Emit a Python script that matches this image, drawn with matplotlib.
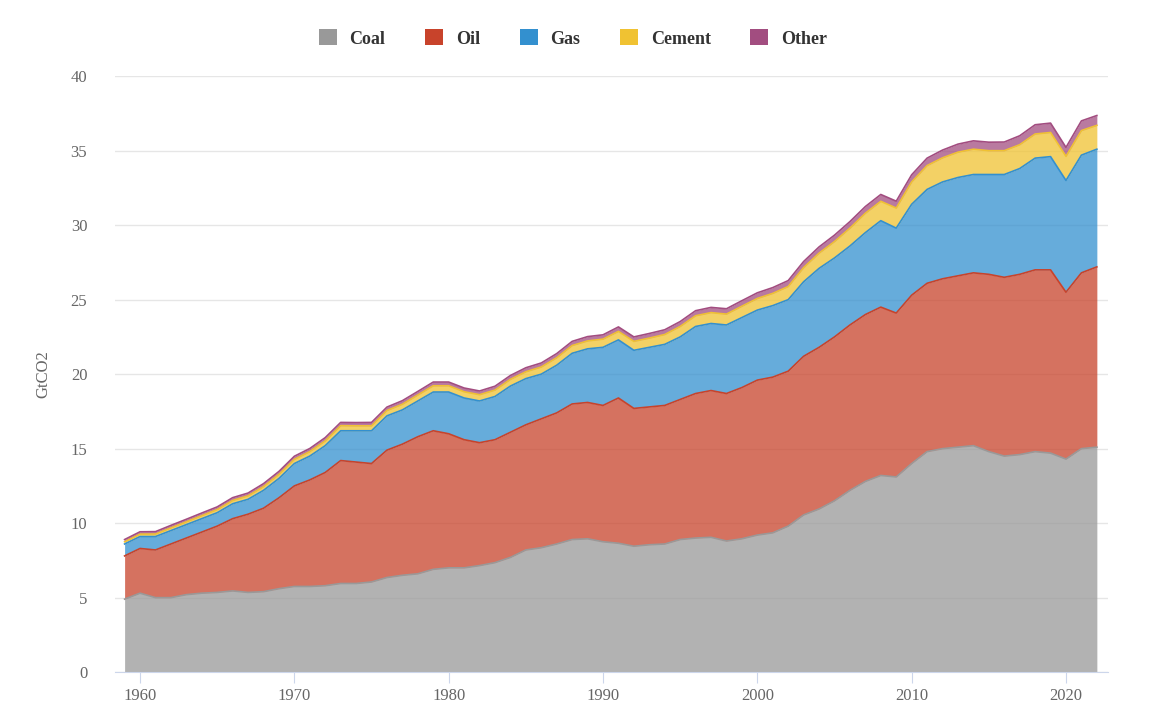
import numpy as np
import matplotlib
matplotlib.use("Agg")
import matplotlib.pyplot as plt
from matplotlib.patches import Patch

years = list(range(1959, 2023))
coal = [4.9,5.3,5.0,5.0,5.2,5.3,5.35,5.45,5.35,5.4,5.6,5.75,5.75,5.8,5.95,5.95,6.05,6.35,6.5,6.6,6.9,7.0,7.0,7.15,7.35,7.7,8.2,8.35,8.6,8.9,8.95,8.75,8.65,8.45,8.55,8.6,8.9,9.0,9.05,8.8,8.95,9.2,9.35,9.8,10.55,10.95,11.5,12.2,12.8,13.2,13.1,14.0,14.8,15.0,15.1,15.2,14.8,14.5,14.6,14.8,14.7,14.3,15.0,15.1]
oil_level = [7.8,8.3,8.2,8.6,9.0,9.4,9.8,10.3,10.6,11.0,11.7,12.5,12.9,13.4,14.2,14.1,14.0,14.9,15.3,15.8,16.2,16.0,15.6,15.4,15.6,16.1,16.6,17.0,17.4,18.0,18.1,17.9,18.4,17.7,17.8,17.9,18.3,18.7,18.9,18.7,19.1,19.6,19.8,20.2,21.2,21.8,22.5,23.3,24.0,24.5,24.1,25.3,26.1,26.4,26.6,26.8,26.7,26.5,26.7,27.0,27.0,25.5,26.8,27.2]
gas_level = [8.6,9.1,9.1,9.5,9.9,10.3,10.7,11.3,11.6,12.2,13.0,14.0,14.5,15.2,16.2,16.2,16.2,17.2,17.6,18.2,18.8,18.8,18.4,18.2,18.5,19.2,19.7,20.0,20.6,21.4,21.7,21.8,22.3,21.6,21.8,22.0,22.5,23.2,23.4,23.3,23.8,24.3,24.6,25.0,26.2,27.1,27.8,28.6,29.5,30.3,29.8,31.4,32.4,32.9,33.2,33.4,33.4,33.4,33.8,34.5,34.6,33.0,34.7,35.1]
cement = [0.15,0.16,0.17,0.18,0.19,0.2,0.21,0.22,0.23,0.25,0.27,0.28,0.3,0.32,0.34,0.33,0.33,0.36,0.38,0.4,0.42,0.42,0.42,0.42,0.43,0.45,0.46,0.48,0.5,0.52,0.53,0.55,0.57,0.6,0.62,0.66,0.7,0.72,0.73,0.73,0.76,0.78,0.82,0.88,0.95,1.02,1.1,1.2,1.3,1.3,1.35,1.5,1.6,1.62,1.7,1.7,1.6,1.6,1.6,1.62,1.62,1.62,1.65,1.6]
other = [0.15,0.16,0.16,0.17,0.17,0.18,0.18,0.19,0.19,0.2,0.2,0.21,0.21,0.22,0.22,0.22,0.23,0.23,0.24,0.24,0.25,0.25,0.25,0.25,0.26,0.26,0.27,0.27,0.28,0.28,0.29,0.29,0.3,0.3,0.31,0.32,0.33,0.34,0.35,0.36,0.37,0.38,0.39,0.4,0.41,0.42,0.43,0.44,0.45,0.46,0.46,0.48,0.5,0.52,0.54,0.56,0.57,0.58,0.6,0.62,0.63,0.6,0.65,0.66]

names = ["Coal", "Oil", "Gas", "Cement", "Other"]
colors = ["#999999", "#c8432b", "#3390cf", "#f0c232", "#a24d80"]

oil = np.array(oil_level) - np.array(coal)
gas = np.array(gas_level) - np.array(oil_level)
series = [np.array(coal), oil, gas, np.array(cement), np.array(other)]

fig = plt.figure(figsize=(11.62, 7.12), dpi=100)
ax = fig.add_axes([0.099, 0.056, 0.8545, 0.837])
base = np.zeros(len(years))
for s, c in zip(series, colors):
    top = base + s
    ax.fill_between(years, base, top, color=c, alpha=0.75, linewidth=0)
    ax.plot(years, top, color=c, linewidth=1.2)
    base = top

ax.set_xlim(1958.38, 2022.72)
ax.set_ylim(0, 40)
ax.set_yticks(range(0, 41, 5))
ax.set_xticks(range(1960, 2021, 10))
ax.grid(axis="y", color="#e6e6e6", linewidth=1)
ax.set_axisbelow(True)
for sp in ["top", "right", "left"]:
    ax.spines[sp].set_visible(False)
ax.spines["bottom"].set_color("#ccd6eb")
ax.tick_params(axis="y", length=0, labelsize=12, labelcolor="#666666", pad=20)
ax.tick_params(axis="x", color="#ccd6eb", length=8, labelsize=12, labelcolor="#666666")
for lab in ax.get_xticklabels() + ax.get_yticklabels():
    lab.set_fontfamily("Liberation Serif")
ax.set_ylabel("GtCO2", fontsize=12, color="#666666", fontfamily="Liberation Serif", labelpad=14)

handles = [Patch(facecolor=c, edgecolor="none") for c in colors]
fig.legend(handles, names, loc="center", bbox_to_anchor=(0.493, 0.946), ncol=5, frameon=False,
           prop={"family": "Liberation Serif", "weight": "bold", "size": 13},
           handlelength=1.0, handleheight=1.0, columnspacing=2.2, handletextpad=0.7, labelcolor="#333333")
fig.savefig("out.png", dpi=100)
